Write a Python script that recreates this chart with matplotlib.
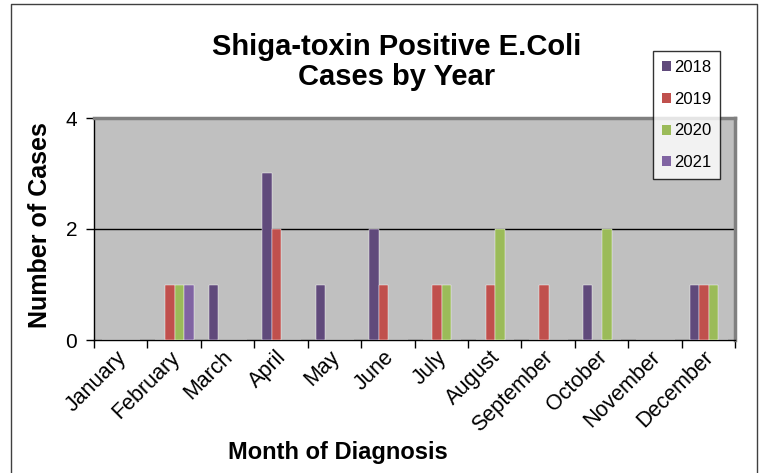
import matplotlib.pyplot as plt
import numpy as np
from matplotlib.patches import Patch
from matplotlib.lines import Line2D
from matplotlib.transforms import ScaledTranslation

plt.rcParams['font.family'] = ['Liberation Sans', 'DejaVu Sans']

# Data
months = ['January', 'February', 'March', 'April', 'May', 'June', 'July',
          'August', 'September', 'October', 'November', 'December']
years = ['2018', '2019', '2020', '2021']
cases_2018 = [0, 0, 1, 3, 1, 2, 0, 0, 0, 1, 0, 1]
cases_2019 = [0, 1, 0, 2, 0, 1, 1, 1, 1, 0, 0, 1]
cases_2020 = [0, 1, 0, 0, 0, 0, 1, 2, 0, 2, 0, 1]
cases_2021 = [0, 1, 0, 0, 0, 0, 0, 0, 0, 0, 0, 0]
colors = ['#604A7B', '#C0504D', '#9BBB59', '#8064A2']

fig = plt.figure(figsize=(7.6, 4.73), dpi=100)
ax = fig.add_axes([94 / 760, 133 / 473, 641 / 760, 222 / 473])
ax.set_facecolor('#C0C0C0')

x = np.arange(len(months))
width = 0.18
for k, (vals, c) in enumerate(zip([cases_2018, cases_2019, cases_2020, cases_2021], colors)):
    ax.bar(x + 0.15 + k * width, vals, width, align='edge', color=c,
           edgecolor='#ffffff', linewidth=0.3, zorder=3)

ax.set_xlim(0, 12)
ax.set_ylim(0, 4)
ax.set_yticks([0, 2, 4])
ax.axhline(2, color='black', linewidth=1, zorder=2)

# month boundaries as ticks, labels centred
ax.set_xticks(np.arange(13))
ax.set_xticklabels([])
ax.set_xticks(x + 0.5, minor=True)
ax.set_xticklabels(months, minor=True, rotation=45, ha='right',
                   rotation_mode='anchor', fontsize=15.5)
ax.tick_params(axis='x', which='minor', length=0, pad=5)
ax.tick_params(axis='x', which='major', length=6, width=1, direction='out')
ax.tick_params(axis='y', length=6, width=1, labelsize=15, pad=6)
shift = ScaledTranslation(-5 / 100, 0, fig.dpi_scale_trans)
for lbl in ax.get_xticklabels(minor=True):
    lbl.set_transform(lbl.get_transform() + shift)

for s in ['left', 'bottom']:
    ax.spines[s].set_color('black')
    ax.spines[s].set_linewidth(1)
for s in ['top', 'right']:
    ax.spines[s].set_color('#808080')
    ax.spines[s].set_linewidth(2.5)

fig.text(397 / 760, 1 - 62 / 473, 'Shiga-toxin Positive E.Coli\nCases by Year',
         ha='center', va='center', fontsize=21, fontweight='bold', linespacing=1.05)
fig.text(40 / 760, 1 - 225 / 473, 'Number of Cases', rotation=90,
         ha='center', va='center', fontsize=18, fontweight='bold')
fig.text(338 / 760, 1 - 452 / 473, 'Month of Diagnosis',
         ha='center', va='center', fontsize=17, fontweight='bold')

handles = [Patch(facecolor=c, edgecolor='none') for c in colors]
leg = fig.legend(handles, years, loc='upper left',
                 bbox_to_anchor=(653 / 760, 1 - 51 / 473), fontsize=12,
                 frameon=True, fancybox=False, borderaxespad=0,
                 handlelength=0.55, handleheight=0.55, handletextpad=0.15,
                 labelspacing=1.0, borderpad=0.55)
leg.get_frame().set_edgecolor('black')
leg.get_frame().set_linewidth(1)

# outer chart border
fig.add_artist(Line2D([11 / 760, 11 / 760, 757 / 760, 757 / 760],
                      [0, 1 - 4 / 473, 1 - 4 / 473, 0], color='#404040',
                      linewidth=1, transform=fig.transFigure))

fig.savefig('out.png', dpi=100)
